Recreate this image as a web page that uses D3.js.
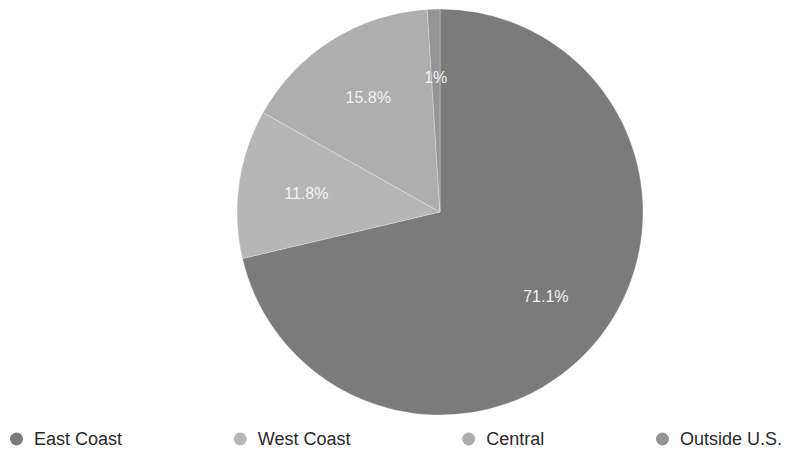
<!DOCTYPE html>
<html>
<head>
<meta charset="utf-8">
<script src="https://cdn.jsdelivr.net/npm/d3@7"></script>
<style>
  html, body { margin: 0; padding: 0; background: #fff; }
  svg { display: block; font-family: "Liberation Sans", Arial, Helvetica, sans-serif; }
</style>
</head>
<body>
<svg id="chart" width="788" height="454"></svg>
<script>
// Share of respondents by region
const regions = ["East Coast", "West Coast", "Central", "Outside U.S."];
const shares = [71.1, 11.8, 15.8, 1];
const sliceColors = ["#7b7b7b", "#b6b6b6", "#aeaeae", "#959595"];

const W = 788, H = 454;
const cx = 440, cy = 212, R = 203, labelR = 135;

const svg = d3.select("#chart");
const data = regions.map((name, i) => ({ name, value: shares[i], color: sliceColors[i] }));

const pie = d3.pie().sort(null).value(d => d.value);
const arcs = pie(data);
const arc = d3.arc().innerRadius(0).outerRadius(R);
const labelArc = d3.arc().innerRadius(labelR).outerRadius(labelR);

const g = svg.append("g").attr("transform", `translate(${cx},${cy})`);

g.selectAll("path.slice")
  .data(arcs)
  .join("path")
  .attr("class", "slice")
  .attr("d", arc)
  .attr("fill", d => d.data.color)
  .attr("stroke", "#ffffff")
  .attr("stroke-opacity", 0.45)
  .attr("stroke-width", 0.6);

g.selectAll("text.pct")
  .data(arcs)
  .join("text")
  .attr("class", "pct")
  .attr("transform", d => `translate(${labelArc.centroid(d)})`)
  .attr("text-anchor", "middle")
  .attr("dy", "0.36em")
  .attr("fill", "#f2f2f2")
  .attr("font-size", 16)
  .text(d => `${d.data.value}%`);

// Legend: items spread evenly across the bottom row
const legendY = 439, left = 10, right = 782, dotR = 6.5, textGap = 11;
const items = svg.append("g").selectAll("g.item")
  .data(data)
  .join("g")
  .attr("class", "item");

items.append("circle")
  .attr("cx", dotR)
  .attr("cy", legendY)
  .attr("r", dotR)
  .attr("fill", d => d.color);

items.append("text")
  .attr("x", dotR * 2 + textGap)
  .attr("y", legendY)
  .attr("dy", "0.36em")
  .attr("font-size", 18)
  .attr("fill", "#2a2a2a")
  .text(d => d.name);

const widths = items.nodes().map(n => n.getBBox().width);
const total = d3.sum(widths);
const gap = (right - left - total) / (data.length - 1);
let x = left;
items.each(function(d, i) {
  d3.select(this).attr("transform", `translate(${x},0)`);
  x += widths[i] + gap;
});
</script>
</body>
</html>
